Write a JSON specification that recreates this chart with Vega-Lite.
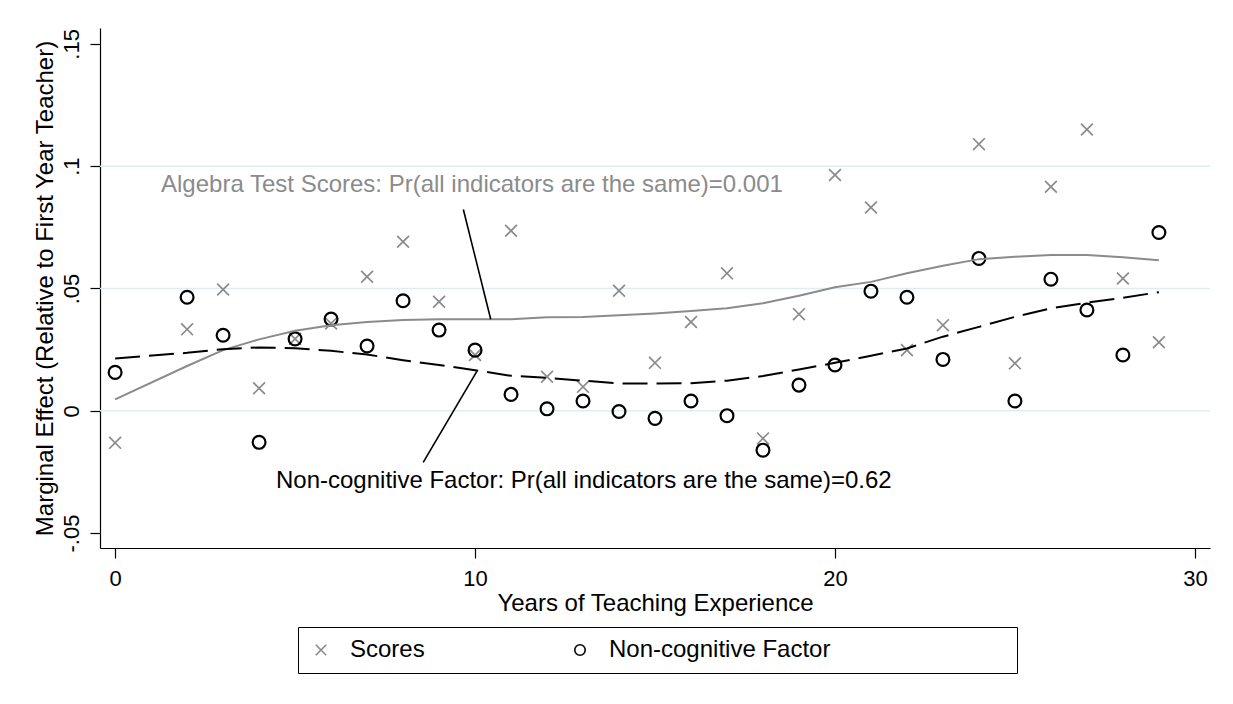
{
  "$schema": "https://vega.github.io/schema/vega-lite/v6.json",
  "width": 1110,
  "height": 520,
  "autosize": {"type": "none"},
  "padding": {"left": 100, "top": 28, "right": 23, "bottom": 156},
  "background": "white",
  "config": {
    "view": {"stroke": null},
    "font": "Liberation Sans",
    "axis": {
      "domainColor": "black",
      "domainWidth": 1.2,
      "tickColor": "black",
      "tickWidth": 1.2,
      "tickSize": 10,
      "labelColor": "black",
      "titleColor": "black",
      "titleFontWeight": "normal",
      "labelFont": "Liberation Sans",
      "titleFont": "Liberation Sans"
    },
    "legend": {
      "direction": "horizontal",
      "strokeColor": "black",
      "padding": 11,
      "symbolSize": 110,
      "symbolStrokeWidth": 1.6,
      "labelFontSize": 24,
      "labelFont": "Liberation Sans",
      "labelColor": "black",
      "labelLimit": 800,
      "labelOffset": 17,
      "columnPadding": 143
    }
  },
  "datasets": {
    "grid": [{"value": 0}, {"value": 0.05}, {"value": 0.1}],
    "points": [
      {"year": 0, "series": "Scores", "value": -0.0131},
      {"year": 2, "series": "Scores", "value": 0.0333},
      {"year": 3, "series": "Scores", "value": 0.0496},
      {"year": 4, "series": "Scores", "value": 0.0092},
      {"year": 5, "series": "Scores", "value": 0.0294},
      {"year": 6, "series": "Scores", "value": 0.0357},
      {"year": 7, "series": "Scores", "value": 0.0548},
      {"year": 8, "series": "Scores", "value": 0.0691},
      {"year": 9, "series": "Scores", "value": 0.0446},
      {"year": 10, "series": "Scores", "value": 0.0228},
      {"year": 11, "series": "Scores", "value": 0.0736},
      {"year": 12, "series": "Scores", "value": 0.0139},
      {"year": 13, "series": "Scores", "value": 0.0098},
      {"year": 14, "series": "Scores", "value": 0.0491},
      {"year": 15, "series": "Scores", "value": 0.0196},
      {"year": 16, "series": "Scores", "value": 0.0363},
      {"year": 17, "series": "Scores", "value": 0.0562},
      {"year": 18, "series": "Scores", "value": -0.0113},
      {"year": 19, "series": "Scores", "value": 0.0395},
      {"year": 20, "series": "Scores", "value": 0.0964},
      {"year": 21, "series": "Scores", "value": 0.0831},
      {"year": 22, "series": "Scores", "value": 0.0248},
      {"year": 23, "series": "Scores", "value": 0.035},
      {"year": 24, "series": "Scores", "value": 0.109},
      {"year": 25, "series": "Scores", "value": 0.0194},
      {"year": 26, "series": "Scores", "value": 0.0916},
      {"year": 27, "series": "Scores", "value": 0.115},
      {"year": 28, "series": "Scores", "value": 0.0541},
      {"year": 29, "series": "Scores", "value": 0.028},
      {"year": 0, "series": "Non-cognitive Factor", "value": 0.0157},
      {"year": 2, "series": "Non-cognitive Factor", "value": 0.0464},
      {"year": 3, "series": "Non-cognitive Factor", "value": 0.0309},
      {"year": 4, "series": "Non-cognitive Factor", "value": -0.0129},
      {"year": 5, "series": "Non-cognitive Factor", "value": 0.0294},
      {"year": 6, "series": "Non-cognitive Factor", "value": 0.0375},
      {"year": 7, "series": "Non-cognitive Factor", "value": 0.0265},
      {"year": 8, "series": "Non-cognitive Factor", "value": 0.045},
      {"year": 9, "series": "Non-cognitive Factor", "value": 0.033},
      {"year": 10, "series": "Non-cognitive Factor", "value": 0.0248},
      {"year": 11, "series": "Non-cognitive Factor", "value": 0.0067},
      {"year": 12, "series": "Non-cognitive Factor", "value": 0.0008},
      {"year": 13, "series": "Non-cognitive Factor", "value": 0.004},
      {"year": 14, "series": "Non-cognitive Factor", "value": -0.0003},
      {"year": 15, "series": "Non-cognitive Factor", "value": -0.0031},
      {"year": 16, "series": "Non-cognitive Factor", "value": 0.004},
      {"year": 17, "series": "Non-cognitive Factor", "value": -0.002},
      {"year": 18, "series": "Non-cognitive Factor", "value": -0.0161},
      {"year": 19, "series": "Non-cognitive Factor", "value": 0.0105},
      {"year": 20, "series": "Non-cognitive Factor", "value": 0.0187},
      {"year": 21, "series": "Non-cognitive Factor", "value": 0.0489},
      {"year": 22, "series": "Non-cognitive Factor", "value": 0.0464},
      {"year": 23, "series": "Non-cognitive Factor", "value": 0.021},
      {"year": 24, "series": "Non-cognitive Factor", "value": 0.0623},
      {"year": 25, "series": "Non-cognitive Factor", "value": 0.004},
      {"year": 26, "series": "Non-cognitive Factor", "value": 0.0538},
      {"year": 27, "series": "Non-cognitive Factor", "value": 0.0412},
      {"year": 28, "series": "Non-cognitive Factor", "value": 0.0228},
      {"year": 29, "series": "Non-cognitive Factor", "value": 0.0729}
    ],
    "fits": [
      {"year": 0, "fit": "scores", "value": 0.0047},
      {"year": 2, "fit": "scores", "value": 0.0183},
      {"year": 3, "fit": "scores", "value": 0.0248},
      {"year": 4, "fit": "scores", "value": 0.0292},
      {"year": 5, "fit": "scores", "value": 0.0327},
      {"year": 6, "fit": "scores", "value": 0.035},
      {"year": 7, "fit": "scores", "value": 0.0363},
      {"year": 8, "fit": "scores", "value": 0.0371},
      {"year": 9, "fit": "scores", "value": 0.0374},
      {"year": 10, "fit": "scores", "value": 0.0374},
      {"year": 11, "fit": "scores", "value": 0.0374},
      {"year": 12, "fit": "scores", "value": 0.0382},
      {"year": 13, "fit": "scores", "value": 0.0383},
      {"year": 14, "fit": "scores", "value": 0.0391},
      {"year": 15, "fit": "scores", "value": 0.0398},
      {"year": 16, "fit": "scores", "value": 0.0408},
      {"year": 17, "fit": "scores", "value": 0.0419},
      {"year": 18, "fit": "scores", "value": 0.044},
      {"year": 19, "fit": "scores", "value": 0.047},
      {"year": 20, "fit": "scores", "value": 0.0505},
      {"year": 21, "fit": "scores", "value": 0.0527},
      {"year": 22, "fit": "scores", "value": 0.0562},
      {"year": 23, "fit": "scores", "value": 0.0593},
      {"year": 24, "fit": "scores", "value": 0.062},
      {"year": 25, "fit": "scores", "value": 0.063},
      {"year": 26, "fit": "scores", "value": 0.0637},
      {"year": 27, "fit": "scores", "value": 0.0637},
      {"year": 28, "fit": "scores", "value": 0.0628},
      {"year": 29, "fit": "scores", "value": 0.0615},
      {"year": 0, "fit": "noncog", "value": 0.0214},
      {"year": 2, "fit": "noncog", "value": 0.0237},
      {"year": 3, "fit": "noncog", "value": 0.0252},
      {"year": 4, "fit": "noncog", "value": 0.0259},
      {"year": 5, "fit": "noncog", "value": 0.0256},
      {"year": 6, "fit": "noncog", "value": 0.0245},
      {"year": 7, "fit": "noncog", "value": 0.023},
      {"year": 8, "fit": "noncog", "value": 0.0207},
      {"year": 9, "fit": "noncog", "value": 0.0187},
      {"year": 10, "fit": "noncog", "value": 0.0166},
      {"year": 11, "fit": "noncog", "value": 0.0143},
      {"year": 12, "fit": "noncog", "value": 0.0135},
      {"year": 13, "fit": "noncog", "value": 0.0123},
      {"year": 14, "fit": "noncog", "value": 0.0112},
      {"year": 15, "fit": "noncog", "value": 0.0111},
      {"year": 16, "fit": "noncog", "value": 0.0113},
      {"year": 17, "fit": "noncog", "value": 0.0123},
      {"year": 18, "fit": "noncog", "value": 0.0142},
      {"year": 19, "fit": "noncog", "value": 0.0169},
      {"year": 20, "fit": "noncog", "value": 0.0196},
      {"year": 21, "fit": "noncog", "value": 0.0225},
      {"year": 22, "fit": "noncog", "value": 0.0255},
      {"year": 23, "fit": "noncog", "value": 0.0303},
      {"year": 24, "fit": "noncog", "value": 0.0343},
      {"year": 25, "fit": "noncog", "value": 0.0384},
      {"year": 26, "fit": "noncog", "value": 0.0419},
      {"year": 27, "fit": "noncog", "value": 0.0442},
      {"year": 28, "fit": "noncog", "value": 0.0462},
      {"year": 29, "fit": "noncog", "value": 0.0485}
    ],
    "pointers": [
      {"year": 9.675, "value": 0.0823, "year2": 10.436, "value2": 0.0374},
      {"year": 8.56, "value": -0.0211, "year2": 10.05, "value2": 0.0161}
    ],
    "notes": [
      {"year": 1.275, "value": 0.0895, "label": "Algebra Test Scores: Pr(all indicators are the same)=0.001", "kind": "scores"},
      {"year": 4.47, "value": -0.0317, "label": "Non-cognitive Factor: Pr(all indicators are the same)=0.62", "kind": "noncog"}
    ]
  },
  "layer": [
    {
      "data": {"name": "grid"},
      "mark": {"type": "rule", "color": "#e2ecef", "strokeWidth": 1.5},
      "encoding": {
        "y": {
          "field": "value", "type": "quantitative",
          "scale": {"domain": [-0.0561, 0.1565], "nice": false, "zero": false},
          "axis": {
            "values": [-0.05, 0, 0.05, 0.1, 0.15],
            "title": "Marginal Effect (Relative to First Year Teacher)",
            "labelExpr": "datum.value < -0.01 ? '-.05' : (datum.value < 0.01 ? '0' : (datum.value < 0.07 ? '.05' : (datum.value < 0.12 ? '.1' : '.15')))",
            "labelAngle": 270,
            "labelAlign": "center",
            "labelBaseline": "alphabetic",
            "labelFontSize": 22,
            "labelPadding": 12,
            "titleFontSize": 24,
            "titlePadding": 3,
            "grid": false
          }
        }
      }
    },
    {
      "data": {"name": "points"},
      "transform": [{"filter": "datum.series == 'Scores'"}],
      "mark": {"type": "point", "filled": false, "opacity": 1, "size": 140, "strokeWidth": 1.7},
      "encoding": {
        "x": {
          "field": "year", "type": "quantitative",
          "scale": {"domain": [-0.42, 30.42], "nice": false, "zero": false},
          "axis": {
            "values": [0, 10, 20, 30],
            "grid": false,
            "title": "Years of Teaching Experience",
            "labelFontSize": 22,
            "labelPadding": 10,
            "labelFlush": false,
            "titleFontSize": 24,
            "titlePadding": 2
          }
        },
        "y": {"field": "value", "type": "quantitative"},
        "shape": {
          "field": "series", "type": "nominal", "title": null,
          "scale": {"domain": ["Scores", "Non-cognitive Factor"], "range": ["M-1,-1L1,1M1,-1L-1,1", "circle"]},
          "legend": {
            "orient": "none",
            "legendX": 198,
            "legendY": 599,
            "labelExpr": "datum.label == 'Scores' ? 'Scores' : 'Non-cognitive Factor\u2007\u2007\u2007\u2007\u2007\u2007\u2007\u2007\u2007\u2007\u2007\u2007\u2007\u200a\u200b'"
          }
        },
        "stroke": {
          "field": "series", "type": "nominal", "title": null,
          "scale": {"domain": ["Scores", "Non-cognitive Factor"], "range": ["#8b8b8b", "#000000"]},
          "legend": {
            "orient": "none",
            "legendX": 198,
            "legendY": 599,
            "labelExpr": "datum.label == 'Scores' ? 'Scores' : 'Non-cognitive Factor\u2007\u2007\u2007\u2007\u2007\u2007\u2007\u2007\u2007\u2007\u2007\u2007\u2007\u200a\u200b'"
          }
        }
      }
    },
    {
      "data": {"name": "points"},
      "transform": [{"filter": "datum.series == 'Non-cognitive Factor'"}],
      "mark": {"type": "point", "filled": false, "opacity": 1, "size": 165, "strokeWidth": 2.2},
      "encoding": {
        "x": {"field": "year", "type": "quantitative"},
        "y": {"field": "value", "type": "quantitative"},
        "shape": {
          "field": "series", "type": "nominal", "title": null,
          "legend": {
            "orient": "none",
            "legendX": 198,
            "legendY": 599,
            "labelExpr": "datum.label == 'Scores' ? 'Scores' : 'Non-cognitive Factor\u2007\u2007\u2007\u2007\u2007\u2007\u2007\u2007\u2007\u2007\u2007\u2007\u2007\u200a\u200b'"
          }
        },
        "stroke": {
          "field": "series", "type": "nominal", "title": null,
          "legend": {
            "orient": "none",
            "legendX": 198,
            "legendY": 599,
            "labelExpr": "datum.label == 'Scores' ? 'Scores' : 'Non-cognitive Factor\u2007\u2007\u2007\u2007\u2007\u2007\u2007\u2007\u2007\u2007\u2007\u2007\u2007\u200a\u200b'"
          }
        }
      }
    },
    {
      "data": {"name": "fits"},
      "transform": [{"filter": "datum.fit == 'scores'"}],
      "mark": {"type": "line", "color": "#8b8b8b", "strokeWidth": 2},
      "encoding": {
        "x": {"field": "year", "type": "quantitative"},
        "y": {"field": "value", "type": "quantitative"}
      }
    },
    {
      "data": {"name": "fits"},
      "transform": [{"filter": "datum.fit == 'noncog'"}],
      "mark": {"type": "line", "color": "#000000", "strokeWidth": 2, "strokeDash": [25, 9]},
      "encoding": {
        "x": {"field": "year", "type": "quantitative"},
        "y": {"field": "value", "type": "quantitative"}
      }
    },
    {
      "data": {"name": "pointers"},
      "mark": {"type": "rule", "color": "#000000", "strokeWidth": 1.6},
      "encoding": {
        "x": {"field": "year", "type": "quantitative"},
        "y": {"field": "value", "type": "quantitative"},
        "x2": {"field": "year2"},
        "y2": {"field": "value2"}
      }
    },
    {
      "data": {"name": "notes"},
      "transform": [{"filter": "datum.kind == 'scores'"}],
      "mark": {"type": "text", "align": "left", "baseline": "alphabetic", "fontSize": 24, "font": "Liberation Sans", "color": "#8b8b8b"},
      "encoding": {
        "x": {"field": "year", "type": "quantitative"},
        "y": {"field": "value", "type": "quantitative"},
        "text": {"field": "label"}
      }
    },
    {
      "data": {"name": "notes"},
      "transform": [{"filter": "datum.kind == 'noncog'"}],
      "mark": {"type": "text", "align": "left", "baseline": "alphabetic", "fontSize": 24, "font": "Liberation Sans", "color": "#000000"},
      "encoding": {
        "x": {"field": "year", "type": "quantitative"},
        "y": {"field": "value", "type": "quantitative"},
        "text": {"field": "label"}
      }
    }
  ]
}
